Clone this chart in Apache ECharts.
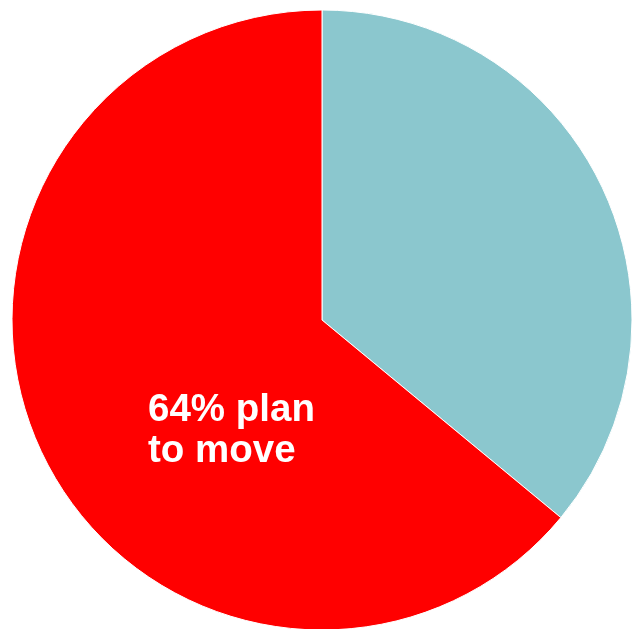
<!DOCTYPE html>
<html>
<head>
<meta charset="utf-8">
<script src="https://cdn.jsdelivr.net/npm/echarts@6/dist/echarts.min.js"></script>
<style>html,body{margin:0;padding:0;background:#fff;}#c{width:640px;height:629px;}</style>
</head>
<body>
<div id="c"></div>
<script>
var categories = ['Do not plan to move', '64% plan\nto move'];
var values = [36, 64];
var colors = ['#8BC7CE', '#FF0000'];

var chart = echarts.init(document.getElementById('c'), null, {renderer: 'canvas'});
chart.setOption({
  animation: false,
  series: [{
    type: 'pie',
    center: [322, 320],
    radius: [0, 310],
    startAngle: 90,
    clockwise: true,
    silent: true,
    itemStyle: { borderColor: '#ffffff', borderWidth: 1 },
    labelLine: { show: false },
    data: categories.map(function (c, i) {
      return {
        name: c,
        value: values[i],
        itemStyle: { color: colors[i] },
        label: i === 1 ? {
          show: true,
          position: 'inside',
          formatter: '{b}',
          color: '#ffffff',
          fontFamily: 'Liberation Sans, Arial, sans-serif',
          fontWeight: 'bold',
          fontSize: 38.5,
          lineHeight: 41,
          align: 'left'
        } : { show: false }
      };
    }),
    labelLayout: function (p) {
      if (p.dataIndex === 1) {
        return { x: 148, y: 431, align: 'left', verticalAlign: 'middle', fontSize: 38.5 };
      }
      return {};
    }
  }]
});
</script>
</body>
</html>
